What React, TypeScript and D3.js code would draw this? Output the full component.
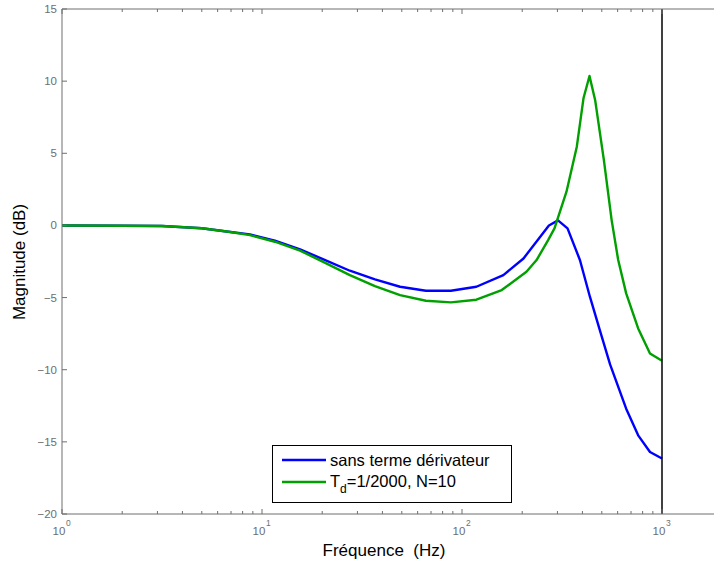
import React from "react";
import * as d3 from "d3";

const blueFreq = [1, 2, 3.16, 5, 6.8, 8.7, 11.6, 15.5, 20.7, 27.5, 36.7, 49, 66, 88, 118, 161, 203, 272, 302, 337, 389, 436, 490, 550, 662, 760, 871, 1000];
const blueDb = [0, -0.02, -0.04, -0.2, -0.44, -0.62, -1.06, -1.66, -2.4, -3.14, -3.74, -4.25, -4.53, -4.53, -4.25, -3.44, -2.29, 0.0, 0.35, -0.2, -2.41, -4.94, -7.31, -9.63, -12.7, -14.55, -15.7, -16.15];

const greenFreq = [1, 2, 3.16, 5, 6.8, 8.7, 11.6, 15.5, 20.7, 27.5, 36.7, 49, 66, 88, 118, 158, 210, 236, 270, 290, 333, 375, 405, 434, 463, 512, 560, 604, 662, 760, 871, 1000];
const greenDb = [0, -0.02, -0.04, -0.2, -0.44, -0.67, -1.13, -1.75, -2.59, -3.44, -4.2, -4.83, -5.22, -5.33, -5.15, -4.48, -3.21, -2.4, -1.0, -0.2, 2.34, 5.46, 8.81, 10.36, 8.7, 4.54, 0.37, -2.4, -4.71, -7.14, -8.87, -9.38];

const yTicks = [15, 10, 5, 0, -5, -10, -15, -20];
const xDecades = [0, 1, 2, 3];
const legendLabels = ["sans terme dérivateur", "T_d=1/2000, N=10"];

const W = 714, H = 565;
const left = 62, top = 9, bottom = 514;

export default function App() {
  const x = d3.scaleLog().domain([1, 1000]).range([left, 662]);
  const y = d3.scaleLinear().domain([-20, 15]).range([bottom, top]);
  const line = d3.line<[number, number]>().x(d => x(d[0])).y(d => y(d[1]));
  const bluePts = blueFreq.map((f, i) => [f, blueDb[i]] as [number, number]);
  const greenPts = greenFreq.map((f, i) => [f, greenDb[i]] as [number, number]);

  const minor: number[] = [];
  for (let dcd = 0; dcd < 4; dcd++) for (let k = 2; k <= 9; k++) {
    const v = k * Math.pow(10, dcd);
    if (x(v) < W) minor.push(v);
  }
  const axisColor = "#6e6e6e";
  const font = "Liberation Sans, Arial, Helvetica, sans-serif";

  return (
    <svg width={W} height={H} style={{ position: "absolute", left: 0, top: 0, background: "#fff" }} fontFamily={font}>
      <rect x={0} y={0} width={W} height={H} fill="#fff" />
      {/* curves */}
      <path d={line(bluePts) || ""} fill="none" stroke="#0000ff" strokeWidth={2.4} strokeLinejoin="round" />
      <path d={line(greenPts) || ""} fill="none" stroke="#00a000" strokeWidth={2.4} strokeLinejoin="round" />
      <line x1={x(1000)} x2={x(1000)} y1={top} y2={bottom} stroke="#000" strokeWidth={1.5} />
      {/* axes box */}
      <line x1={left} x2={W} y1={top} y2={top} stroke={axisColor} strokeWidth={1} />
      <line x1={left} x2={W} y1={bottom} y2={bottom} stroke={axisColor} strokeWidth={1} />
      <line x1={left} x2={left} y1={top} y2={bottom} stroke={axisColor} strokeWidth={1} />
      {/* y ticks */}
      {yTicks.map(t => (
        <g key={t}>
          <line x1={left} x2={left + 5} y1={y(t)} y2={y(t)} stroke={axisColor} />
          <text x={left - 5} y={y(t)} dy="0.35em" textAnchor="end" fontSize={11.5} fill="#6e6e6e">
            {t < 0 ? "\u2212" + Math.abs(t) : String(t)}
          </text>
        </g>
      ))}
      {/* x minor ticks */}
      {minor.map((v, i) => (
        <g key={i}>
          <line x1={x(v)} x2={x(v)} y1={bottom} y2={bottom - 3} stroke={axisColor} />
          <line x1={x(v)} x2={x(v)} y1={top} y2={top + 3} stroke={axisColor} />
        </g>
      ))}
      {xDecades.map(dcd => {
        const px = x(Math.pow(10, dcd));
        return (
          <g key={dcd}>
            <line x1={px} x2={px} y1={bottom} y2={bottom - 5} stroke={axisColor} />
            <line x1={px} x2={px} y1={top} y2={top + 5} stroke={axisColor} />
            <text x={px - 3} y={bottom + 21} textAnchor="middle" fontSize={11.5} fill="#6e6e6e">10</text>
            <text x={px + 4} y={bottom + 12} textAnchor="start" fontSize={8.5} fill="#6e6e6e">{dcd}</text>
          </g>
        );
      })}
      {/* axis labels */}
      <text x={384} y={556} textAnchor="middle" fontSize={17} fill="#000" style={{ whiteSpace: "pre" }}>{"Fréquence  (Hz)"}</text>
      <text transform={`translate(25, 262) rotate(-90)`} textAnchor="middle" fontSize={17} fill="#000">Magnitude (dB)</text>
      {/* legend */}
      <rect x={272.5} y={445.5} width={239} height={57} fill="#fff" stroke="#000" strokeWidth={1} />
      <line x1={282} x2={326} y1={460} y2={460} stroke="#0000ff" strokeWidth={2.4} />
      <line x1={282} x2={326} y1={482} y2={482} stroke="#00a000" strokeWidth={2.4} />
      <text x={330} y={466} fontSize={16.5} fill="#000">{legendLabels[0]}</text>
      <text x={330} y={487} fontSize={16.5} fill="#000">
        T<tspan dy={6} fontSize={12}>d</tspan><tspan dy={-6}>=1/2000, N=10</tspan>
      </text>
    </svg>
  );
}
